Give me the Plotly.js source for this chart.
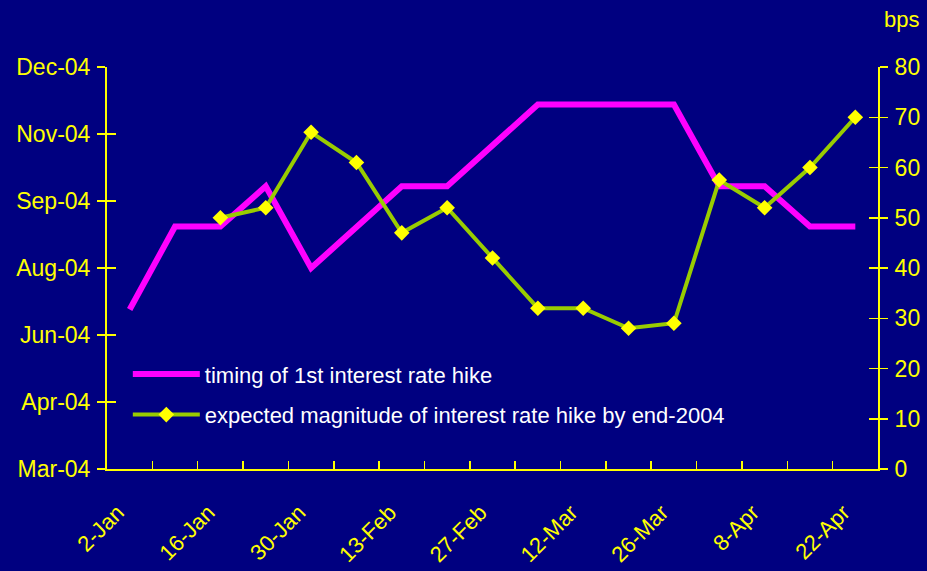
<!DOCTYPE html>
<html>
<head>
<meta charset="utf-8">
<script src="https://cdn.plot.ly/plotly-3.0.1.min.js"></script>
<style>html,body{margin:0;padding:0;background:#000080;}#chart{width:927px;height:571px;}</style>
</head>
<body>
<div id="chart"></div>
<script>
// Weekly observation dates (category axis)
const weeks = ["2-Jan","9-Jan","16-Jan","23-Jan","30-Jan","6-Feb","13-Feb","20-Feb","27-Feb","5-Mar","12-Mar","19-Mar","26-Mar","2-Apr","8-Apr","15-Apr","22-Apr"];
// Shown x tick labels (every second week)
const weekLabels = ["2-Jan","","16-Jan","","30-Jan","","13-Feb","","27-Feb","","12-Mar","","26-Mar","","8-Apr","","22-Apr"];
// Timing of first interest rate hike (expected month)
const timing = ["2004-07-01","2004-09-01","2004-09-01","2004-10-01","2004-08-01","2004-09-01","2004-10-01","2004-10-01","2004-11-01","2004-12-01","2004-12-01","2004-12-01","2004-12-01","2004-10-01","2004-10-01","2004-09-01","2004-09-01"];
// Expected magnitude of hikes by end-2004 (bps)
const magnitude = [null,null,50,52,67,61,47,52,42,32,32,28,29,57.5,52,60,70];
// Left axis ticks (dates) and labels
const leftTickVals = ["2004-03-04","2004-04-23","2004-06-12","2004-08-01","2004-09-20","2004-11-09","2004-12-29"];
const leftTickText = ["Mar-04","Apr-04","Jun-04","Aug-04","Sep-04","Nov-04","Dec-04"];
const leftRange = ["2004-03-04","2004-12-29"];
const rightRange = [0,80];

const YEL = "#FFFF00";
const FONT = "Liberation Sans, Arial, sans-serif";

const traces = [
  {x: weeks, y: timing, yaxis: "y", type: "scatter", mode: "lines",
   name: "timing of 1st interest rate hike", legendgroup: "a",
   line: {color: "#FF00FF", width: 6}, hoverinfo: "skip"},
  {x: weeks, y: magnitude, yaxis: "y2", type: "scatter", mode: "lines+markers",
   name: "expected magnitude of interest rate hike by end-2004", legendgroup: "b",
   line: {color: "#99CC00", width: 4},
   marker: {symbol: "diamond", size: 12, color: YEL, line: {width: 0}},
   hoverinfo: "skip"},
  {x: [], y: [], yaxis: "y3", type: "scatter", showlegend: false, hoverinfo: "skip"},
  {x: [], y: [], yaxis: "y4", type: "scatter", showlegend: false, hoverinfo: "skip"}
];

const tickFont = {family: FONT, size: 23, color: YEL};

const layout = {
  width: 927, height: 571,
  paper_bgcolor: "#000080", plot_bgcolor: "#000080",
  margin: {l: 107, r: 49, t: 67, b: 102},
  showlegend: true,
  xaxis: {type: "category", range: [-0.5, weeks.length - 0.5],
    tickmode: "array", tickvals: weeks, ticktext: weekLabels,
    tickson: "boundaries", ticks: "inside", ticklen: 8, tickwidth: 1.5, tickcolor: YEL,
    showline: true, linecolor: YEL, linewidth: 2, showgrid: false, zeroline: false,
    tickangle: -45, tickfont: {family: FONT, size: 22, color: YEL},
    ticklabelstandoff: 20, ticklabelshift: -12},
  yaxis: {type: "date", range: leftRange, tickmode: "array", tickvals: leftTickVals, ticktext: leftTickText,
    ticks: "outside", ticklen: 8, tickwidth: 1.5, tickcolor: YEL,
    showline: true, linecolor: YEL, linewidth: 2, showgrid: false, zeroline: false,
    tickfont: tickFont, ticklabelstandoff: 2},
  yaxis3: {type: "date", range: leftRange, overlaying: "y", side: "left", tickmode: "array", tickvals: leftTickVals,
    ticks: "inside", ticklen: 9, tickwidth: 1.5, tickcolor: YEL, showticklabels: false,
    showline: false, showgrid: false, zeroline: false},
  yaxis2: {range: rightRange, overlaying: "y", side: "right", dtick: 10, tick0: 0,
    ticks: "outside", ticklen: 8, tickwidth: 1.5, tickcolor: YEL,
    showline: true, linecolor: YEL, linewidth: 2, showgrid: false, zeroline: false,
    tickfont: tickFont, ticklabelstandoff: 2},
  yaxis4: {range: rightRange, overlaying: "y", side: "right", dtick: 10, tick0: 0,
    ticks: "inside", ticklen: 9, tickwidth: 1.5, tickcolor: YEL, showticklabels: false,
    showline: false, showgrid: false, zeroline: false},
  legend: {x: 0.027, y: 0.288, xanchor: "left", yanchor: "top", bgcolor: "rgba(0,0,0,0)",
    font: {family: FONT, size: 22, color: "#FFFFFF"}, itemwidth: 67, tracegroupgap: 9},
  annotations: [{text: "bps", xref: "paper", yref: "paper", x: 1.031, y: 1.117,
    xanchor: "center", yanchor: "middle", showarrow: false, font: {family: FONT, size: 22, color: YEL}}]
};

Plotly.newPlot("chart", traces, layout, {displayModeBar: false, staticPlot: true});
</script>
</body>
</html>
